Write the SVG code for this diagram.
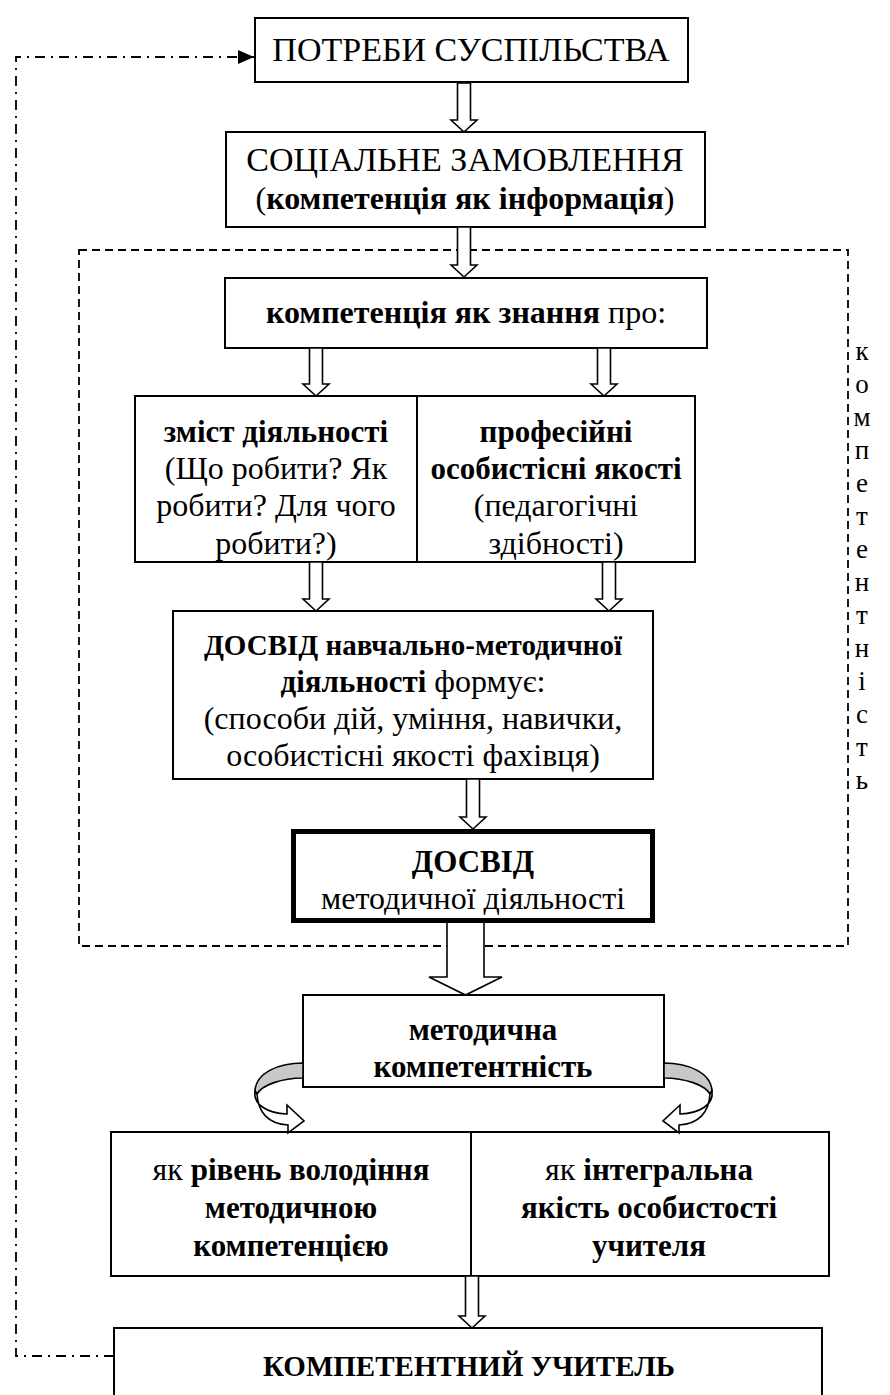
<svg xmlns="http://www.w3.org/2000/svg" width="890" height="1395" viewBox="0 0 890 1395">
<style>
.box{fill:#fff;stroke:#000;stroke-width:2}
.thick{fill:#fff;stroke:#000;stroke-width:5}
.arr{fill:#fff;stroke:#000;stroke-width:1.6;stroke-linejoin:miter}
.t{font-family:"Liberation Serif","Times New Roman",serif;font-size:32px;fill:#000;text-anchor:middle}
.b{font-weight:bold;font-size:31px}
.dash{fill:none;stroke:#000;stroke-width:1.8;stroke-dasharray:8 5}
.dd{fill:none;stroke:#000;stroke-width:1.8;stroke-dasharray:10 6 2 6}
.v{font-family:"Liberation Serif","Times New Roman",serif;font-size:27px;fill:#000;text-anchor:middle}
</style>
<defs>
<marker id="tri" markerWidth="16" markerHeight="14" refX="16" refY="7" orient="auto" markerUnits="userSpaceOnUse">
<path d="M0,0 L16,7 L0,14 Z" fill="#000"/>
</marker>
</defs>

<rect id="frame" class="dash" x="79" y="250" width="769" height="696"/>

<g id="n1"><rect class="box" x="255" y="18" width="433" height="64"/>
<text class="t" x="471" y="61" style="font-size:34px">ПОТРЕБИ СУСПІЛЬСТВА</text></g>

<g id="n2"><rect class="box" x="226" y="132" width="479" height="95"/>
<text class="t" x="465" y="171" style="font-size:34px">СОЦІАЛЬНЕ ЗАМОВЛЕННЯ</text>
<text class="t" x="465" y="209">(<tspan class="b" style="font-size:32px">компетенція як інформація</tspan>)</text></g>

<g id="n3"><rect class="box" x="225" y="278" width="482" height="70"/>
<text class="t" x="466" y="323"><tspan class="b" style="font-size:32px">компетенція як знання</tspan> про:</text></g>

<g id="n4"><rect class="box" x="135" y="396" width="282" height="166"/>
<text class="t b" x="276" y="442">зміст діяльності</text>
<text class="t" x="276" y="479">(Що робити? Як</text>
<text class="t" x="276" y="516">робити? Для чого</text>
<text class="t" x="276" y="554">робити?)</text></g>

<g id="n5"><rect class="box" x="417" y="396" width="278" height="166"/>
<text class="t b" x="556" y="442">професійні</text>
<text class="t b" x="556" y="479">особистісні якості</text>
<text class="t" x="556" y="516">(педагогічні</text>
<text class="t" x="556" y="554">здібності)</text></g>

<g id="n6"><rect class="box" x="173" y="611" width="480" height="168"/>
<text class="t b" x="413" y="655" style="font-size:29px">ДОСВІД навчально-методичної</text>
<text class="t" x="413" y="692"><tspan class="b">діяльності</tspan> формує:</text>
<text class="t" x="413" y="729">(способи дій, уміння, навички,</text>
<text class="t" x="413" y="766">особистісні якості фахівця)</text></g>

<g id="n8"><rect class="box" x="303" y="995" width="361" height="92"/>
<text class="t b" x="483" y="1040">методична</text>
<text class="t b" x="483" y="1077">компетентність</text></g>

<g id="n9"><rect class="box" x="111" y="1132" width="360" height="144"/>
<text class="t" x="291" y="1180">як <tspan class="b">рівень володіння</tspan></text>
<text class="t b" x="291" y="1218">методичною</text>
<text class="t b" x="291" y="1256">компетенцією</text></g>

<g id="n10"><rect class="box" x="471" y="1132" width="358" height="144"/>
<text class="t" x="649" y="1180">як <tspan class="b">інтегральна</tspan></text>
<text class="t b" x="649" y="1218">якість особистості</text>
<text class="t b" x="649" y="1256">учителя</text></g>

<g id="n11"><path class="box" d="M114,1400 L114,1328 L822,1328 L822,1400"/>
<text class="t b" x="469" y="1376" style="font-size:29px">КОМПЕТЕНТНИЙ УЧИТЕЛЬ</text></g>

<g id="label">
<text class="v" x="862" y="360">к</text><text class="v" x="862" y="393">о</text><text class="v" x="862" y="426">м</text><text class="v" x="862" y="459">п</text><text class="v" x="862" y="492">е</text><text class="v" x="862" y="525">т</text><text class="v" x="862" y="558">е</text><text class="v" x="862" y="591">н</text><text class="v" x="862" y="624">т</text><text class="v" x="862" y="657">н</text><text class="v" x="862" y="690">і</text><text class="v" x="862" y="723">с</text><text class="v" x="862" y="756">т</text><text class="v" x="862" y="789">ь</text>
</g>

<g id="connectors">
<polygon class="arr" points="457.5,83 470.5,83 470.5,120 477,120 464,132 451,120 457.5,120"/>
<polygon class="arr" points="457.5,227 470.5,227 470.5,265 477,265 464,277 451,265 457.5,265"/>
<polygon class="arr" points="309.5,348 322.5,348 322.5,384 329,384 316,396 303,384 309.5,384"/>
<polygon class="arr" points="597.5,348 610.5,348 610.5,384 617,384 604,396 591,384 597.5,384"/>
<polygon class="arr" points="309.5,562 322.5,562 322.5,599 329,599 316,611 303,599 309.5,599"/>
<polygon class="arr" points="602.5,562 615.5,562 615.5,599 622,599 609,611 596,599 602.5,599"/>
<polygon class="arr" points="466.5,779 479.5,779 479.5,817 486,817 473,829 460,817 466.5,817"/>
<polygon class="arr" points="447,921 484,921 484,977 502,977 465.5,995 429,977 447,977"/>
<polygon class="arr" points="465.5,1276 478.5,1276 478.5,1316 485,1316 472,1328 459,1316 465.5,1316"/>
<path class="dd" d="M114,1356 L16,1356 L16,57 L254,57" marker-end="url(#tri)"/>
<g id="curveL">
<path d="M303,1063 C280,1063 256,1072 255,1091 L257,1094 C262,1085 282,1078 303,1078 Z" fill="#c8c8c8" stroke="#000" stroke-width="1.6"/>
<path d="M255,1091 C253,1104 266,1113 287,1114 L287,1105 L304,1121 L288,1133 L288,1125 C268,1124 258,1112 257,1094 Z" fill="#fff" stroke="#000" stroke-width="1.6" stroke-linejoin="miter"/>
</g>
<g id="curveR" transform="translate(967,0) scale(-1,1)">
<path d="M303,1063 C280,1063 256,1072 255,1091 L257,1094 C262,1085 282,1078 303,1078 Z" fill="#c8c8c8" stroke="#000" stroke-width="1.6"/>
<path d="M255,1091 C253,1104 266,1113 287,1114 L287,1105 L304,1121 L288,1133 L288,1125 C268,1124 258,1112 257,1094 Z" fill="#fff" stroke="#000" stroke-width="1.6" stroke-linejoin="miter"/>
</g>
</g>

<g id="n7"><rect class="thick" x="293.5" y="831.5" width="359" height="89"/>
<text class="t b" x="473" y="872">ДОСВІД</text>
<text class="t" x="473" y="909">методичної діяльності</text></g>
</svg>
